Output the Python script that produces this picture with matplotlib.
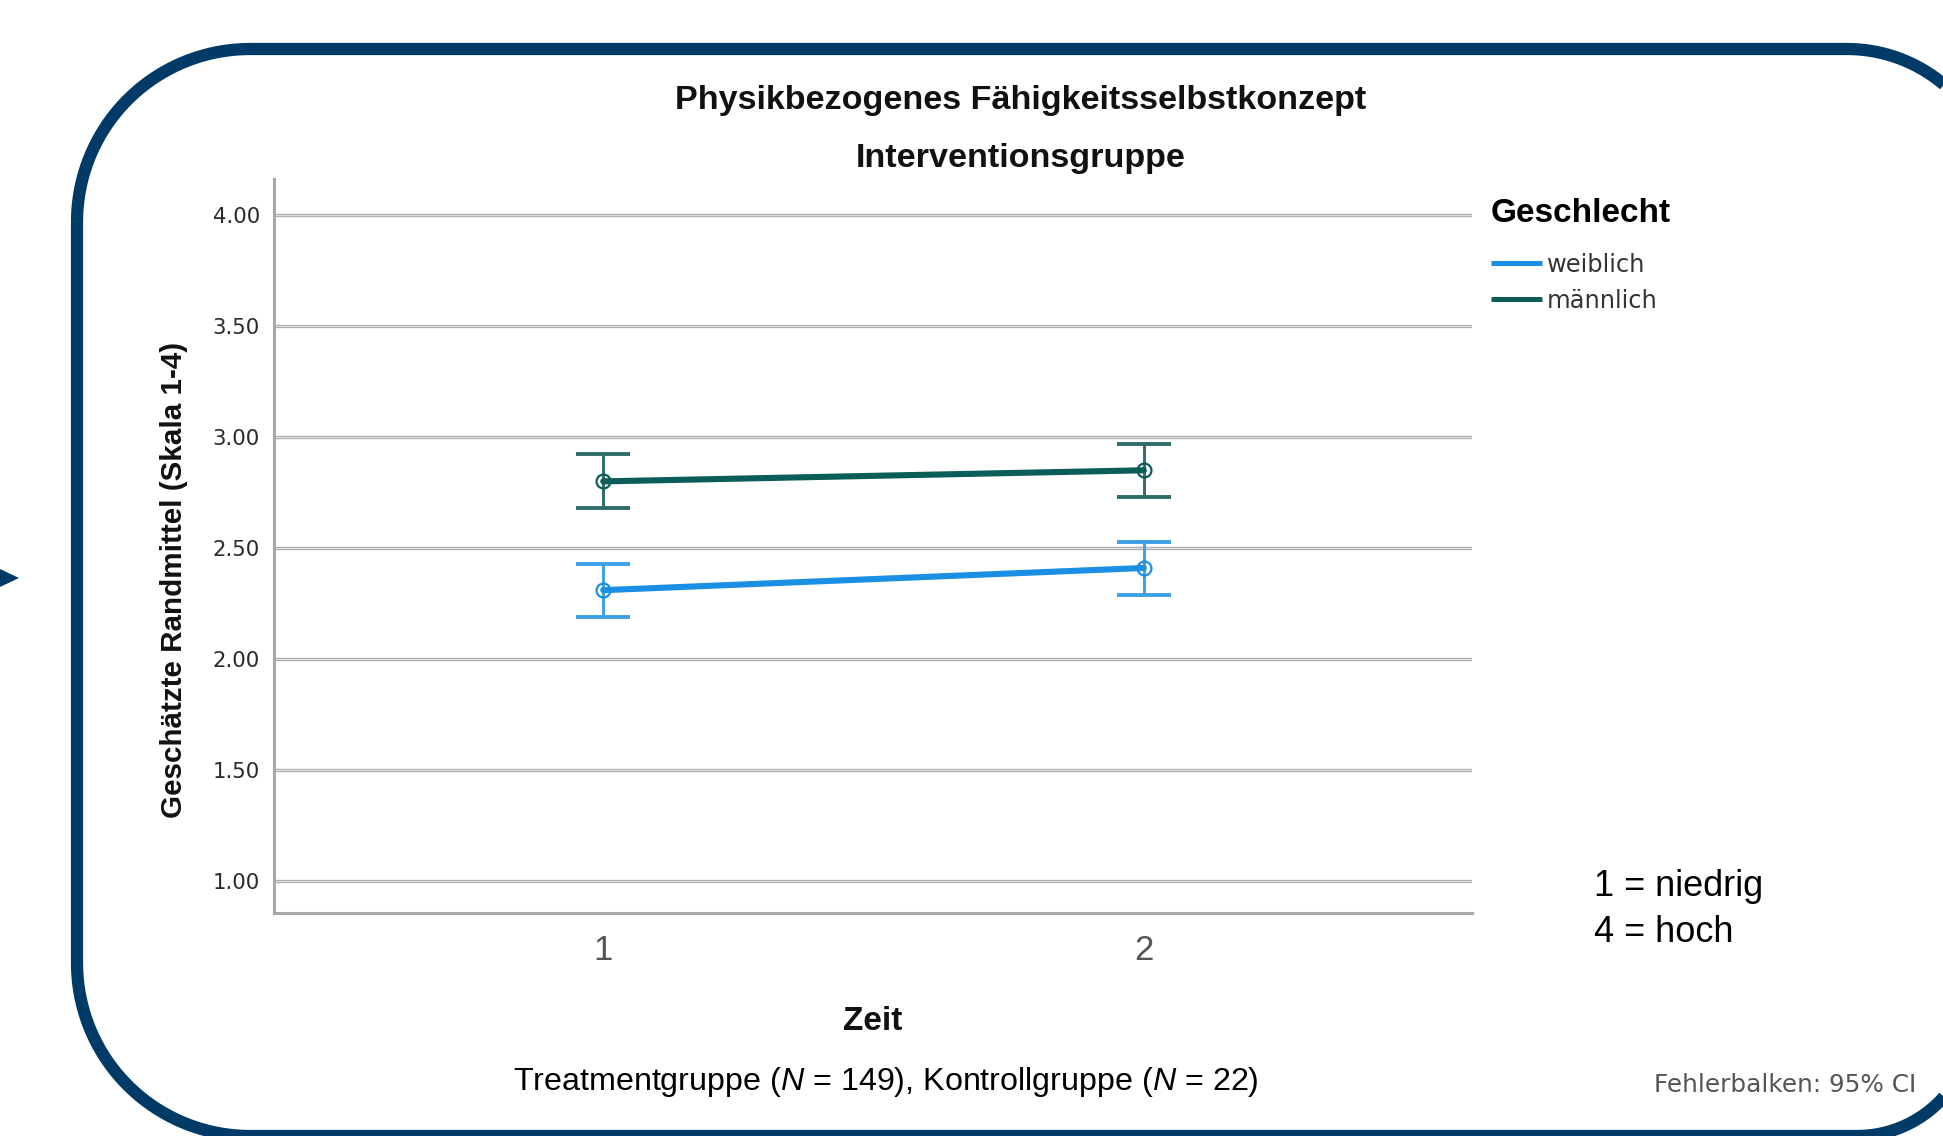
import numpy as np
import matplotlib
matplotlib.use("Agg")
import matplotlib.pyplot as plt
from matplotlib.lines import Line2D
from matplotlib.patches import Polygon

# data (estimated marginal means with 95% CI)
zeit = [1, 2]
weiblich_mean = [2.31, 2.41]
weiblich_lo = [2.19, 2.29]
weiblich_hi = [2.43, 2.525]
maennlich_mean = [2.80, 2.85]
maennlich_lo = [2.68, 2.73]
maennlich_hi = [2.925, 2.97]
y_ticks = [1.0, 1.5, 2.0, 2.5, 3.0, 3.5, 4.0]
x_tick_labels = ["1", "2"]

plt.rcParams['font.family'] = ['Liberation Sans', 'DejaVu Sans']
plt.rcParams['mathtext.fontset'] = 'custom'
plt.rcParams['mathtext.rm'] = 'Liberation Sans'
plt.rcParams['mathtext.it'] = 'Liberation Sans:italic'

W, H = 1943, 1136
fig = plt.figure(figsize=(W / 100, H / 100), dpi=100)

# background layer in pixel coordinates (y pointing down)
bg = fig.add_axes([0, 0, 1, 1], zorder=0)
bg.set_xlim(0, W)
bg.set_ylim(H, 0)
bg.axis('off')

# rounded frame around the slide
navy = '#003a66'
corners = [((250, 222), 173, 180, 270),
           ((1847, 199), 150, 270, 360),
           ((1857, 1020), 116, 0, 90),
           ((250, 963), 173, 90, 180)]
pts = []
for (cx, cy), r, a0, a1 in corners:
    t = np.radians(np.linspace(a0, a1, 40))
    pts += list(zip(cx + r * np.cos(t), cy + r * np.sin(t)))
bg.add_patch(Polygon(pts, closed=True, fill=False, edgecolor=navy,
                     linewidth=8.8, joinstyle='round'))
# small arrow head at the left edge
bg.add_patch(Polygon([(0, 569), (0, 587), (19, 578)], closed=True,
                     facecolor=navy, edgecolor='none'))

# titles
bg.text(1021, 100, "Physikbezogenes Fähigkeitsselbstkonzept", ha='center',
        va='center', fontsize=24.6, fontweight='bold', color='#111111')
bg.text(1021, 159, "Interventionsgruppe", ha='center', va='center',
        fontsize=24.6, fontweight='bold', color='#111111')

# notes
bg.text(886, 1082, r"Treatmentgruppe ($\mathit{N}$ = 149), Kontrollgruppe ($\mathit{N}$ = 22)",
        ha='center', va='center', fontsize=23.2, color='black')
bg.text(1594, 887, "1 = niedrig", ha='left', va='center', fontsize=26,
        color='black')
bg.text(1594, 932, "4 = hoch", ha='left', va='center', fontsize=26,
        color='black')
bg.text(1916, 1085, "Fehlerbalken: 95% CI", ha='right', va='center',
        fontsize=17.8, color='#555555', family='DejaVu Sans')

# main plot area
ax = fig.add_axes([274 / W, 223 / H, 1198 / W, 734 / H], zorder=1)
ax.patch.set_alpha(0)
ax.set_xlim(0.391, 2.607)
ax.set_ylim(0.856, 4.162)

blue = '#1a8fe3'
blue_err = '#3d9fe5'
teal = '#0b5d58'
teal_err = '#2f6d69'

for mean, lo, hi, c, ce in [(weiblich_mean, weiblich_lo, weiblich_hi, blue, blue_err),
                            (maennlich_mean, maennlich_lo, maennlich_hi, teal, teal_err)]:
    mean = np.array(mean)
    yerr = [mean - np.array(lo), np.array(hi) - mean]
    ax.errorbar(zeit, mean, yerr=yerr, fmt='none', ecolor=ce, elinewidth=2.1,
                capsize=19.5, capthick=2.8, zorder=3)
    ax.plot(zeit, mean, color=c, lw=4.4, zorder=4, solid_capstyle='round')
    ax.plot(zeit, mean, linestyle='none', marker='o', ms=10, mfc='none',
            mec=c, mew=1.6, zorder=5)

# SPSS style double grid lines
ax.set_yticks(y_ticks)
ax.set_yticklabels([f"{v:.2f}" for v in y_ticks], family='DejaVu Sans',
                   fontsize=15.3, color='#2a2a2a')
ax.yaxis.grid(True, color='#b0b0b0', lw=2.4, zorder=1)
for v in y_ticks:
    ax.axhline(v, color='#e0e0e0', lw=0.7, zorder=1.5)
ax.set_axisbelow(True)

ax.set_xticks(zeit)
ax.set_xticklabels(x_tick_labels, fontsize=25, color='#555555')
ax.tick_params(axis='both', length=0)
ax.tick_params(axis='y', pad=10)
ax.tick_params(axis='x', pad=15)

for s in ['top', 'right']:
    ax.spines[s].set_visible(False)
for s in ['left', 'bottom']:
    ax.spines[s].set_color('#a8a8a8')
    ax.spines[s].set_linewidth(2.2)

ax.set_xlabel("Zeit", fontsize=24, fontweight='bold', color='#111111',
              labelpad=28)
ax.set_ylabel("Geschätzte Randmittel (Skala 1-4)", fontsize=21.3,
              fontweight='bold', color='#111111')
ax.yaxis.set_label_coords(-0.072, (913 - 580) / 734)

# legend
handles = [Line2D([], [], color=blue, lw=3.6, solid_capstyle='butt'),
           Line2D([], [], color=teal, lw=3.6, solid_capstyle='butt')]
leg = ax.legend(handles, ["weiblich", "männlich"], title="Geschlecht",
                loc='upper left', bbox_to_anchor=(1491 / W, 1 - 198 / H),
                bbox_transform=fig.transFigure, frameon=False,
                alignment='left', borderpad=0, borderaxespad=0,
                handlelength=2.1, handletextpad=0.22, labelspacing=0.5,
                prop={'family': 'DejaVu Sans', 'size': 17.4},
                title_fontproperties={'family': 'Liberation Sans',
                                      'weight': 'bold', 'size': 24})
for t in leg.get_texts():
    t.set_color('#333333')
leg._legend_box.sep = 17

fig.savefig("out.png", dpi=100)
